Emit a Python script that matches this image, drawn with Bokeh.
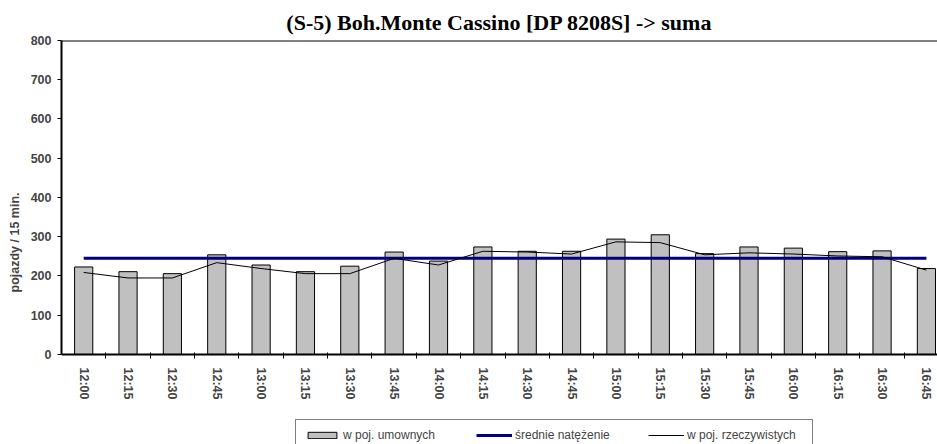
from bokeh.plotting import figure
from bokeh.models import Range1d, FixedTicker, Span, Legend, LegendItem
from bokeh.embed import file_html
from bokeh.resources import INLINE

# ---- data ----
times = ["12:00", "12:15", "12:30", "12:45", "13:00", "13:15", "13:30", "13:45",
         "14:00", "14:15", "14:30", "14:45", "15:00", "15:15", "15:30", "15:45",
         "16:00", "16:15", "16:30", "16:45"]
umowne = [223, 211, 206, 254, 228, 211, 225, 261, 238, 274,
          263, 263, 294, 305, 257, 274, 271, 262, 264, 219]
rzeczywiste = [209, 195, 195, 234, 219, 206, 206, 245, 228, 263,
               261, 256, 287, 285, 254, 259, 256, 251, 249, 215]
srednie = [245, 245, 245, 245, 245, 245, 245, 245, 245, 245,
           245, 245, 245, 245, 245, 245, 245, 245, 245, 245]
y_ticks = [0, 100, 200, 300, 400, 500, 600, 700, 800]

title_text = "(S-5) Boh.Monte Cassino [DP 8208S] -> suma"
y_label = "pojazdy / 15 min."
legend_labels = ["w poj. umownych", "średnie natężenie", "w poj. rzeczywistych"]

idx = list(range(len(times)))
boundaries = [i + 0.5 for i in idx]

SANS = "Liberation Sans"
SERIF = "Liberation Serif"

# frame spans the whole lower part of the page; the category axis sits at y=0
p = figure(width=937, height=444, output_backend="svg", toolbar_location=None,
           x_range=Range1d(-0.5, 19.25), y_range=Range1d(-229.3, y_ticks[-1]),
           min_border_left=61, min_border_right=0, min_border_top=40,
           min_border_bottom=0)
p.background_fill_color = "white"
p.border_fill_color = "white"
p.outline_line_color = None
p.xgrid.visible = False
p.ygrid.visible = False

p.title.text = title_text
p.title.text_font = SERIF
p.title.text_font_size = "22px"
p.title.text_font_style = "bold"
p.title.text_color = "black"
p.title.align = "center"
p.title.standoff = 12

bars = p.vbar(x=idx, top=umowne, width=0.41, fill_color="#c0c0c0",
              line_color="black", line_width=1)
avg_line = p.line(idx, srednie, line_color="#000080", line_width=3)
real_line = p.line(idx, rzeczywiste, line_color="black", line_width=1)

p.add_layout(Span(location=y_ticks[-1], dimension="width", line_color="black",
                  line_width=2))

# y axis
ya = p.yaxis[0]
ya.ticker = FixedTicker(ticks=y_ticks)
ya.bounds = (y_ticks[0], y_ticks[-1])
ya.major_tick_out = 4
ya.major_tick_in = 0
ya.minor_tick_line_color = None
ya.axis_line_width = 2
ya.major_tick_line_width = 1
ya.major_label_standoff = 6
ya.major_label_text_font = SANS
ya.major_label_text_font_size = "12.5px"
ya.major_label_text_font_style = "bold"
ya.axis_label = y_label
ya.axis_label_text_font = SANS
ya.axis_label_text_font_size = "12.5px"
ya.axis_label_text_font_style = "bold"
ya.axis_label_standoff = 6

# x axis
xa = p.xaxis[0]
xa.fixed_location = y_ticks[0]
xa.ticker = FixedTicker(ticks=idx, minor_ticks=boundaries)
xa.major_label_overrides = {i: t for i, t in zip(idx, times)}
xa.major_tick_out = 0
xa.major_tick_in = 0
xa.major_tick_line_color = None
xa.minor_tick_in = 2
xa.minor_tick_out = 4
xa.minor_tick_line_color = "black"
xa.axis_line_width = 2
xa.major_label_orientation = "vertical"
xa.major_label_standoff = 9
xa.major_label_text_font = SANS
xa.major_label_text_font_size = "12.5px"
xa.major_label_text_font_style = "bold"

legend = Legend(
    items=[LegendItem(label=legend_labels[0], renderers=[bars]),
           LegendItem(label=legend_labels[1], renderers=[avg_line]),
           LegendItem(label=legend_labels[2], renderers=[real_line])],
    orientation="horizontal", location=(234, -7),
    glyph_width=36, glyph_height=8, label_standoff=3, spacing=16,
    padding=8, label_width=117, label_height=14, margin=0,
    border_line_color="black", border_line_width=1,
    background_fill_color="white", background_fill_alpha=1,
    label_text_font=SANS, label_text_font_size="12px",
)
p.add_layout(legend)

open("out.html", "w").write(file_html(p, INLINE))
